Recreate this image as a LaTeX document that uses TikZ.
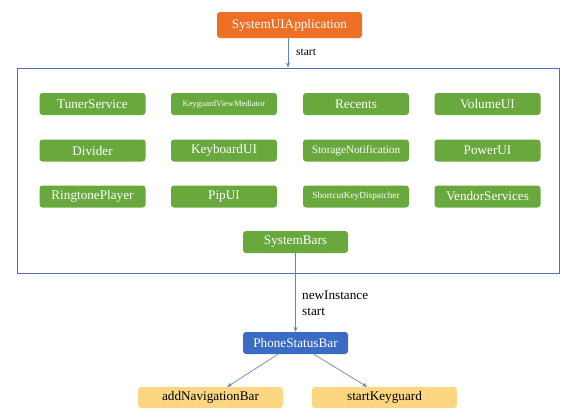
\documentclass[tikz,border=0pt]{standalone}
\usepackage{fontspec}
\setmainfont{Liberation Serif}
\usetikzlibrary{arrows.meta}
\definecolor{appOrange}{RGB}{238,112,38}
\definecolor{svcGreen}{RGB}{104,168,60}
\definecolor{barBlue}{RGB}{58,108,198}
\definecolor{callYellow}{RGB}{253,214,130}
\definecolor{frameBlue}{RGB}{84,112,170}
\definecolor{lineBlue}{RGB}{96,132,204}
\begin{document}
\begin{tikzpicture}[x=1pt,y=-1pt]
        \tikzstyle{box} = [rounded corners=3pt, inner sep=0pt, text=white, font=\fontsize{13.2}{15}\selectfont]
        \tikzstyle{app} = [box, fill=appOrange, minimum width=145pt, minimum height=26pt]
        \tikzstyle{service} = [box, fill=svcGreen, minimum width=106pt, minimum height=22pt]
        \tikzstyle{bar} = [box, fill=barBlue, minimum width=105pt, minimum height=22pt]
        \tikzstyle{call} = [box, fill=callYellow, text=black, minimum width=145pt, minimum height=21pt]
        \tikzstyle{link} = [draw=lineBlue, line width=0.7pt, -{Stealth[length=5pt,width=4pt]}]
        \tikzstyle{note} = [anchor=west, inner sep=0pt, font=\fontsize{13.2}{15.7}\selectfont]

        \useasboundingbox (0,0) rectangle (581,418);

		\node[app] (application) at (289.5,25) {SystemUIApplication};
		\node[draw=frameBlue, line width=1pt, minimum width=542pt, minimum height=205pt] (services) at (288,170.5) {};

		\node[service] (tuner) at (92.5,104) {TunerService};
		\node[service, font=\fontsize{8.5}{10}\selectfont] (keyguardmediator) at (224,104) {KeyguardViewMediator};
		\node[service] (recents) at (356,104) {Recents};
		\node[service] (volume) at (487.5,104) {VolumeUI};
		\node[service] (divider) at (92.5,150.5) {Divider};
		\node[service] (keyboard) at (224,150.5) {KeyboardUI};
		\node[service, font=\fontsize{11.2}{13}\selectfont] (storage) at (356,150.5) {StorageNotification};
		\node[service] (power) at (487.5,150.5) {PowerUI};
		\node[service] (ringtone) at (92.5,196.5) {RingtonePlayer};
		\node[service] (pip) at (224,196.5) {PipUI};
		\node[service, font=\fontsize{9.3}{11}\selectfont] (shortcut) at (356,196.5) {ShortcutKeyDispatcher};
		\node[service] (vendor) at (487.5,196.5) {VendorServices};
		\node[service, minimum width=105pt] (systembars) at (295.5,242) {SystemBars};

		\node[bar] (phonebar) at (295.5,343) {PhoneStatusBar};
		\node[call] (navigation) at (210.5,397.5) {addNavigationBar};
		\node[call] (keyguard) at (384.5,397.5) {startKeyguard};

		\draw[link] (application.south -| services.north) -- (services.north);
		\node[note, font=\fontsize{11.5}{14}\selectfont] (startlabel) at (296,52) {start};
		\draw[link] (systembars) -- (phonebar);
		\node[note, align=left] (instancelabel) at (302,303) {newInstance\\start};
		\draw[link] (phonebar) -- (navigation);
		\draw[link] (phonebar) -- (keyguard);

    \end{tikzpicture}
\end{document}
